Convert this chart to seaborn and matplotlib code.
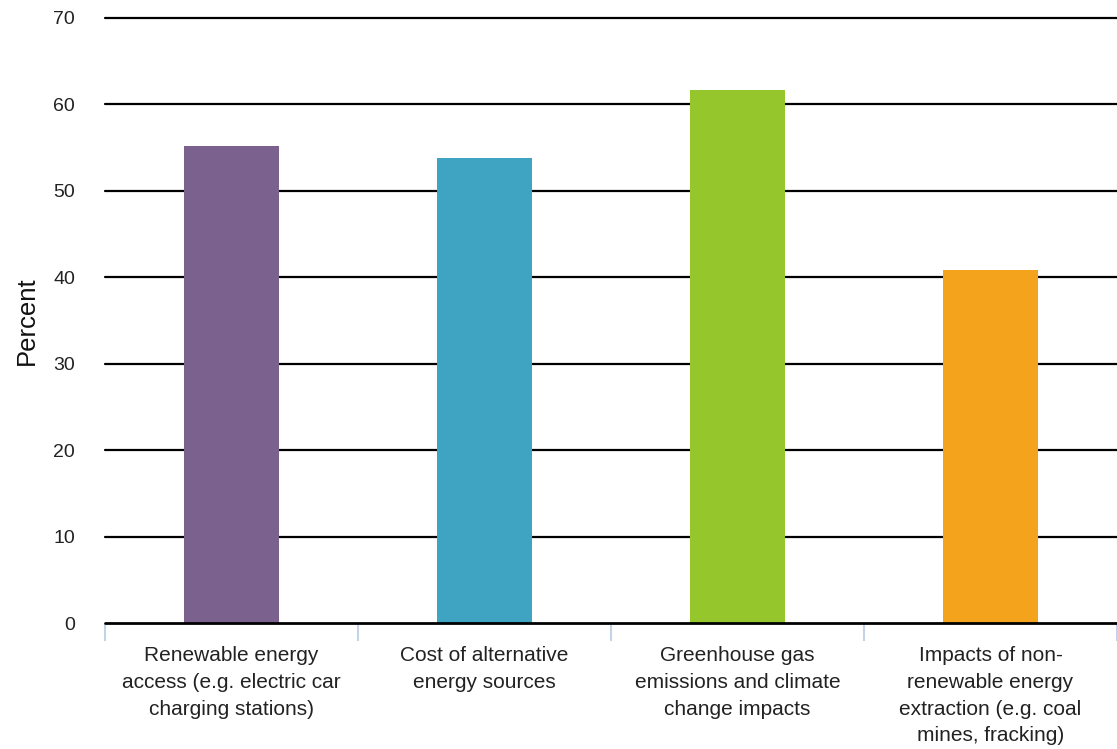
import matplotlib
matplotlib.use("Agg")
import matplotlib.pyplot as plt
import numpy as np
import pandas as pd
import seaborn as sns

categories = [
    "Renewable energy\naccess (e.g. electric car\ncharging stations)",
    "Cost of alternative\nenergy sources",
    "Greenhouse gas\nemissions and climate\nchange impacts",
    "Impacts of non-\nrenewable energy\nextraction (e.g. coal\nmines, fracking)",
]
values = [55.2, 53.8, 61.7, 40.9]
colors = ["#7b618e", "#3fa3c2", "#95c62b", "#f4a41c"]

sns.set_theme(style="white")
plt.rcParams["font.family"] = ["Liberation Sans", "DejaVu Sans"]

df = pd.DataFrame({"category": categories, "value": values})

fig = plt.figure(figsize=(11.17, 7.49), dpi=100)
ax = fig.add_axes([0.094, 0.168, 0.906, 0.808])

sns.barplot(data=df, x="category", y="value", hue="category", palette=colors,
            width=0.375, saturation=1, legend=False, ax=ax, zorder=3,
            edgecolor="none", linewidth=0)

ax.set_ylim(0, 70)
ax.set_xlim(-0.5, 3.5)
ax.set_yticks(np.arange(0, 71, 10))
for y in np.arange(10, 71, 10):
    ax.axhline(y, color="black", lw=1.6, zorder=1, clip_on=False)
ax.axhline(0, color="black", lw=2, zorder=4, clip_on=False)

for s in ax.spines.values():
    s.set_visible(False)

ax.set_xticks(range(len(categories)), labels=categories, linespacing=1.52)
ax.set_xticks(np.arange(-0.5, 3.6, 1), minor=True)
ax.tick_params(axis="x", which="minor", bottom=True, length=13, width=1.5, color="#c5d3e8")
ax.tick_params(axis="x", which="major", bottom=False, length=0, pad=16.5, labelsize=15, labelcolor="#222222")
ax.tick_params(axis="y", length=0, pad=21.5, labelsize=14, labelcolor="#222222")
ax.set_xlabel("")
ax.set_ylabel("Percent", fontsize=18.5, labelpad=10, color="#111111")

fig.savefig("out.png", dpi=100)
